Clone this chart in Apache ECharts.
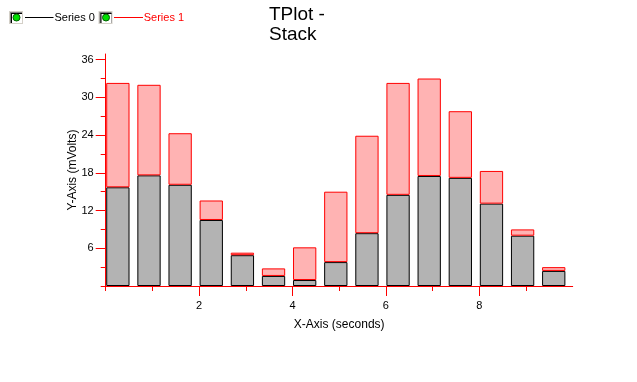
<!DOCTYPE html>
<html>
<head>
<meta charset="utf-8">
<script src="https://cdn.jsdelivr.net/npm/echarts@6/dist/echarts.min.js"></script>
<style>
html,body{margin:0;padding:0;background:#fff;}
#chart{width:637px;height:382px;}
</style>
</head>
<body>
<div id="chart"></div>
<script>
// ---- data ----
var categories = ['0', '0.67', '1.33', '2', '2.67', '3.33', '4', '4.67', '5.33', '6', '6.67', '7.33', '8', '8.67', '9.33'];
var series0 = [15.7, 17.6, 16.1, 10.5, 4.9, 1.6, 0.95, 3.8, 8.4, 14.5, 17.5, 17.2, 13.1, 8.0, 2.4];
var series1 = [16.6, 14.4, 8.2, 3.1, 0.4, 1.2, 5.2, 11.2, 15.5, 17.8, 15.5, 10.6, 5.2, 1.0, 0.6];
var seriesNames = ['Series 0', 'Series 1'];
var xTickLabels = [2, 4, 6, 8];
var xMinorTicks = [0, 1, 3, 5, 7, 9];
var yTickLabels = [6, 12, 18, 24, 30, 36];
var yMinorTicks = [0, 3, 9, 15, 21, 27, 33];
var titleText = 'TPlot -\nStack';
var xName = 'X-Axis (seconds)';
var yName = 'Y-Axis (mVolts)';

var FONT = '"Liberation Sans", Arial, sans-serif';
var RED = '#ff0000';
var Y_MAX = 36.9;

var chart = echarts.init(document.getElementById('chart'), null, {renderer: 'canvas'});

function checkbox(x, y) {
  return [
    {type: 'rect', shape: {x: x, y: y, width: 14, height: 13}, style: {fill: '#d4d0c8', stroke: null}, silent: true},
    {type: 'rect', shape: {x: x + 1, y: y + 1, width: 12, height: 11}, style: {fill: '#808080'}, silent: true},
    {type: 'rect', shape: {x: x + 2, y: y + 2, width: 11, height: 10}, style: {fill: '#000000'}, silent: true},
    {type: 'rect', shape: {x: x + 3, y: y + 3, width: 10, height: 9}, style: {fill: '#ffffff'}, silent: true},
    {type: 'circle', shape: {cx: x + 7.5, cy: y + 6.5, r: 3.5}, style: {fill: '#00e000', stroke: '#006000', lineWidth: 1}, silent: true}
  ];
}

var graphics = [].concat(
  checkbox(9, 11),
  [
    {type: 'line', shape: {x1: 25, y1: 17.5, x2: 53.5, y2: 17.5}, style: {stroke: '#000', lineWidth: 1}, silent: true},
    {type: 'text', x: 54.5, y: 17.5, style: {text: seriesNames[0], fill: '#000', font: '11px ' + FONT, textVerticalAlign: 'middle', verticalAlign: 'middle'}, silent: true}
  ],
  checkbox(98.5, 11),
  [
    {type: 'line', shape: {x1: 114, y1: 17.5, x2: 143, y2: 17.5}, style: {stroke: RED, lineWidth: 1}, silent: true},
    {type: 'text', x: 143.7, y: 17.5, style: {text: seriesNames[1], fill: RED, font: '11px ' + FONT, textVerticalAlign: 'middle', verticalAlign: 'middle'}, silent: true}
  ]
);

function tickAxis(gridIndex, max, position, ticks, len) {
  return {
    type: 'value', gridIndex: gridIndex, min: 0, max: max, position: position, offset: 0,
    axisLine: {show: false},
    axisTick: {show: true, customValues: ticks, length: len, lineStyle: {color: RED, width: 1, opacity: 1}},
    axisLabel: {show: false},
    splitLine: {show: false}
  };
}
function lineAxis(gridIndex, max, position) {
  return {
    type: 'value', gridIndex: gridIndex, min: 0, max: max, position: position, offset: 0,
    axisLine: {show: true, onZero: false, lineStyle: {color: RED, width: 1, opacity: 1}},
    axisTick: {show: false},
    axisLabel: {show: false},
    splitLine: {show: false}
  };
}

var option = {
  backgroundColor: '#ffffff',
  animation: false,
  title: {
    text: titleText,
    left: 269,
    top: 5,
    padding: 0,
    textStyle: {fontFamily: FONT, fontSize: 19, fontWeight: 'normal', color: '#000', lineHeight: 20}
  },
  graphic: graphics,
  grid: [
    {left: 105.7, top: 54, width: 467, height: 232, containLabel: false},
    {left: 102.3, top: 54, width: 467, height: 232, containLabel: false}
  ],
  xAxis: [
    {
      type: 'value', gridIndex: 0, min: 0, max: 10, position: 'bottom',
      name: xName, nameLocation: 'middle', nameGap: 33, nameMoveOverlap: false,
      nameTextStyle: {fontFamily: FONT, fontSize: 12, color: '#000'},
      axisLine: {show: false},
      axisTick: {show: false},
      axisLabel: {show: true, customValues: xTickLabels, margin: 14, fontFamily: FONT, fontSize: 11, color: '#000'},
      splitLine: {show: false}
    },
    lineAxis(0, 10, 'bottom'),
    tickAxis(0, 10, 'bottom', xTickLabels, 10),
    tickAxis(0, 10, 'bottom', xMinorTicks, 5),
    {
      type: 'category', gridIndex: 1, data: categories, boundaryGap: true, show: false
    }
  ],
  yAxis: [
    {
      type: 'value', gridIndex: 0, min: 0, max: Y_MAX, position: 'left',
      name: yName, nameLocation: 'middle', nameGap: 27, nameRotate: 90, nameMoveOverlap: false,
      nameTextStyle: {fontFamily: FONT, fontSize: 12, color: '#000'},
      axisLine: {show: false},
      axisTick: {show: false},
      axisLabel: {show: true, customValues: yTickLabels, margin: 12, fontFamily: FONT, fontSize: 11, color: '#000'},
      splitLine: {show: false}
    },
    lineAxis(0, Y_MAX, 'left'),
    tickAxis(0, Y_MAX, 'left', yTickLabels, 10),
    tickAxis(0, Y_MAX, 'left', yMinorTicks, 5),
    {
      type: 'value', gridIndex: 1, min: 0, max: Y_MAX, show: false
    }
  ],
  series: [
    {
      name: seriesNames[0], type: 'bar', stack: 'total', xAxisIndex: 4, yAxisIndex: 4,
      data: series0, barWidth: 23.3,
      itemStyle: {color: '#b3b3b3', borderColor: '#000000', borderWidth: 1}
    },
    {
      name: seriesNames[1], type: 'bar', stack: 'total', xAxisIndex: 4, yAxisIndex: 4,
      data: series1, barWidth: 23.3,
      itemStyle: {color: '#ffb3b3', borderColor: RED, borderWidth: 1}
    }
  ]
};
chart.setOption(option);
</script>
</body>
</html>
